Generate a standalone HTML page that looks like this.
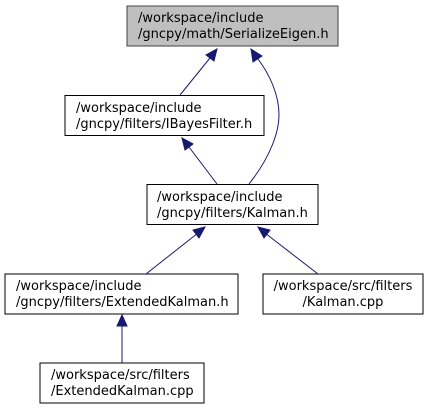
<!DOCTYPE html>
<html><head><style>body{margin:0;background:#fff}</style></head><body>
<svg width="429" height="409" viewBox="0 0 429 409" xmlns="http://www.w3.org/2000/svg" style="display:block">
<g font-family="DejaVu Sans, Liberation Sans, sans-serif" font-size="13" fill="#000">
<rect x="127" y="6" width="211" height="40" fill="#bfbfbf" stroke="#404040"/>
<text x="138" y="22">/workspace/include</text><text x="138" y="38">/gncpy/math/SerializeEigen.h</text>
<rect x="65" y="95.5" width="199" height="40" fill="#fff" stroke="#000"/>
<text x="76" y="112">/workspace/include</text><text x="76" y="128">/gncpy/filters/IBayesFilter.h</text>
<rect x="147" y="184.5" width="171" height="40" fill="#fff" stroke="#000"/>
<text x="157" y="201">/workspace/include</text><text x="157" y="217">/gncpy/filters/Kalman.h</text>
<rect x="5" y="274" width="233" height="40" fill="#fff" stroke="#000"/>
<text x="16" y="290">/workspace/include</text><text x="16" y="306">/gncpy/filters/ExtendedKalman.h</text>
<rect x="263" y="274" width="160" height="40" fill="#fff" stroke="#000"/>
<text x="343" y="290" text-anchor="middle">/workspace/src/filters</text><text x="343" y="306" text-anchor="middle">/Kalman.cpp</text>
<rect x="40" y="363" width="164" height="40" fill="#fff" stroke="#000"/>
<text x="51" y="379">/workspace/src/filters</text><text x="51" y="395">/ExtendedKalman.cpp</text>
</g>
<g stroke="#191970" fill="none" stroke-width="1">
<path d="M180 95 L210 58"/>
<path d="M249 184 C272 155 279 130 279 115 C279 95 270 75 258 59"/>
<path d="M217 184 L189 147"/>
<path d="M146 274 L198 233"/>
<path d="M318 274 L265 233"/>
<path d="M122 363 L122 325"/>
</g>
<g fill="#191970" stroke="#191970">
<polygon points="217,49 206,55 214,61"/>
<polygon points="251,49 253,62 262,56"/>
<polygon points="182,138 185,150 193,144"/>
<polygon points="205,227 193,230 199,238"/>
<polygon points="258,227 264,238 270,230"/>
<polygon points="122,315 117,326 127,326"/>
</g>
</svg>
</body></html>
